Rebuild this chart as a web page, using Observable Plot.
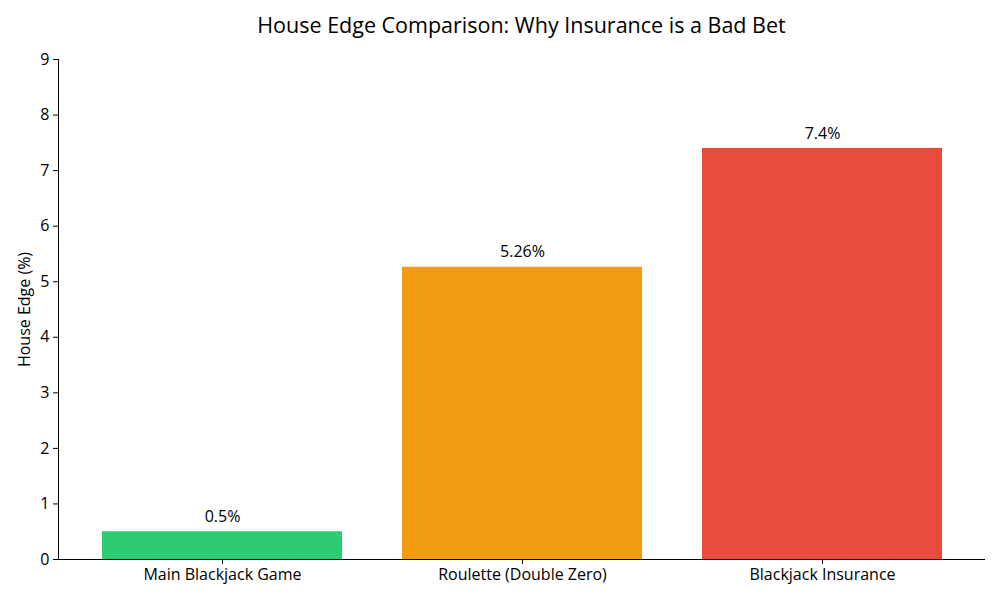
<!DOCTYPE html>
<html>
<head>
<meta charset="utf-8">
<script src="https://cdn.jsdelivr.net/npm/d3@7"></script>
<script src="https://cdn.jsdelivr.net/npm/@observablehq/plot@0.6"></script>
<style>
  body { margin: 0; background: #fff; font-family: "Open Sans", sans-serif; }
  #title { width: 957px; height: 40px; padding-top: 5px; padding-left: 43px; line-height: 40px; text-align: center; font-size: 21.5px; color: #000; }
</style>
</head>
<body>
<div id="title">House Edge Comparison: Why Insurance is a Bad Bet</div>
<div id="chart"></div>
<script>
const categories = ["Main Blackjack Game", "Roulette (Double Zero)", "Blackjack Insurance"];
const houseEdge = [0.5, 5.26, 7.4];
const valueLabels = ["0.5%", "5.26%", "7.4%"];
const colors = ["#2ecc71", "#f39c12", "#e74c3c"];
const yTicks = [0, 1, 2, 3, 4, 5, 6, 7, 8, 9];

const data = categories.map((c, i) => ({cat: c, v: houseEdge[i], label: valueLabels[i], color: colors[i]}));

const chart = Plot.plot({
  width: 1000,
  height: 555,
  marginLeft: 58,
  marginRight: 15,
  marginTop: 14,
  marginBottom: 41,
  style: {fontFamily: "'Open Sans', sans-serif", fontSize: "16px", color: "#000", background: "#fff"},
  x: {domain: categories, paddingInner: 0.2, paddingOuter: 0.14, label: null},
  y: {domain: [0, 9], label: null},
  marks: [
    Plot.barY(data, {x: "cat", y: "v", fill: "color"}),
    Plot.text(data, {x: "cat", y: "v", text: "label", dy: -15, fontSize: 16, fill: "#000"}),
    Plot.axisX({tickSize: 5, tickPadding: 4, fontSize: 16, stroke: "#000"}),
    Plot.axisY({ticks: yTicks, tickSize: 5, tickPadding: 4, fontSize: 16, tickFormat: d => String(d), label: null}),
    Plot.text(["House Edge (%)"], {frameAnchor: "left", textAnchor: "middle", dx: -34, rotate: -90, fontSize: 16, fill: "#000"}),
    Plot.ruleY([0], {stroke: "#000"}),
    Plot.frame({anchor: "left", stroke: "#000"})
  ]
});
document.getElementById("chart").appendChild(chart);
</script>
</body>
</html>
